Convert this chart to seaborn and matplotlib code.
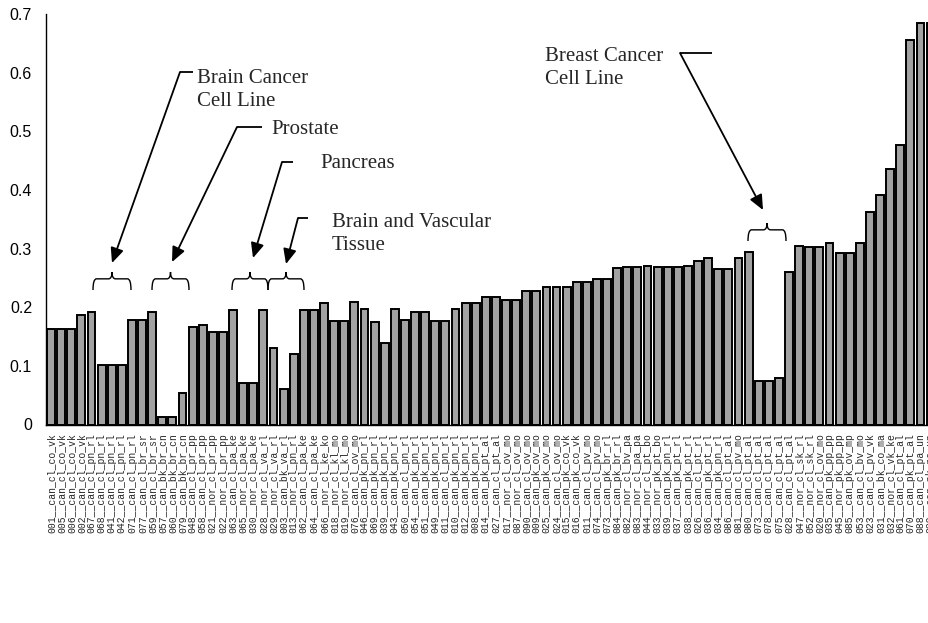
import numpy as np
import pandas as pd
import matplotlib
matplotlib.use("Agg")
import matplotlib.pyplot as plt
from matplotlib.path import Path
from matplotlib.patches import PathPatch
import seaborn as sns

# ---------------- data ----------------
sample_ids = ["001", "005", "006", "002", "067", "068", "041", "042", "071", "077",
              "059", "057", "060", "079", "048", "058", "021", "022", "063", "065",
              "030", "028", "029", "003", "013", "062", "064", "066", "018", "019",
              "076", "046", "069", "039", "043", "050", "054", "051", "049", "011",
              "010", "012", "008", "014", "027", "017", "087", "090", "009", "025",
              "024", "015", "016", "011", "074", "073", "084", "082", "083", "044",
              "033", "039", "037", "038", "026", "036", "034", "086", "081", "080",
              "073", "078", "075", "028", "047", "052", "020", "035", "045", "085",
              "053", "023", "031", "032", "061", "070", "088", "089"]
sample_desc = ["can_cl_co_vk", "can_cl_co_vk", "can_cl_co_vk", "can_cl_co_vk", "can_cl_pn_rl",
               "can_cl_pn_rl", "can_cl_pn_rl", "can_cl_pn_rl", "can_cl_pn_rl", "can_cl_br_sr",
               "can_cl_br_sr", "can_bk_br_cn", "can_bk_br_cn", "can_bk_br_cn", "can_cl_pr_pp",
               "can_cl_pr_pp", "nor_cl_pr_pp", "nor_cl_pr_pp", "can_cl_pa_ke", "nor_cl_pa_ke",
               "nor_cl_pa_ke", "nor_cl_va_rl", "nor_cl_va_rl", "can_bk_va_rl", "nor_cl_pn_rl",
               "can_cl_pa_ke", "can_cl_pa_ke", "nor_cl_ke_ko", "nor_cl_kl_mo", "nor_cl_kl_mo",
               "can_cl_ov_mo", "can_pk_pn_rl", "can_pk_pn_rl", "can_pk_pn_rl", "can_pk_pn_rl",
               "can_cl_pn_rl", "can_pk_pn_rl", "can_pk_pn_rl", "can_pk_pn_rl", "can_cl_pn_rl",
               "can_pk_pn_rl", "can_pk_pn_rl", "can_pk_pn_rl", "can_pk_pt_al", "can_cl_pt_al",
               "nor_cl_ov_mo", "nor_cl_ov_mo", "can_cl_ov_mo", "can_pk_ov_mo", "can_pk_ov_mo",
               "can_cl_ov_mo", "can_pk_co_vk", "can_pk_co_vk", "can_cl_pv_mo", "can_cl_pv_mo",
               "can_pk_br_rl", "can_pk_br_rl", "nor_cl_bv_pa", "nor_cl_pa_pa", "nor_cl_pt_bo",
               "nor_pk_pt_bo", "can_pk_pn_rl", "can_pk_pt_rl", "can_pk_pt_rl", "can_cl_pt_rl",
               "can_pk_pt_rl", "can_pk_pn_rl", "can_cl_pt_al", "can_cl_pv_mo", "can_cl_pt_al",
               "can_cl_pt_al", "can_cl_pt_al", "can_cl_pt_al", "can_cl_pt_al", "nor_cl_sk_rl",
               "nor_cl_sk_rl", "nor_cl_ov_mo", "can_pk_pp_pp", "nor_pk_pp_pp", "can_pk_ov_mp",
               "can_cl_bv_mo", "can_cl_pv_vk", "can_bk_co_ma", "nor_cl_vk_ke", "can_cl_pt_al",
               "can_pk_pt_al", "can_cl_pa_un", "can_pk_pa_un"]
values = [0.162, 0.162, 0.162, 0.186, 0.191, 0.102, 0.102, 0.102, 0.178, 0.178,
          0.191, 0.013, 0.013, 0.053, 0.167, 0.170, 0.157, 0.157, 0.196, 0.071,
          0.071, 0.196, 0.131, 0.060, 0.121, 0.196, 0.196, 0.207, 0.176, 0.176,
          0.209, 0.197, 0.174, 0.139, 0.197, 0.179, 0.192, 0.192, 0.176, 0.176,
          0.197, 0.208, 0.208, 0.218, 0.218, 0.212, 0.212, 0.228, 0.228, 0.235,
          0.235, 0.235, 0.243, 0.243, 0.248, 0.248, 0.267, 0.269, 0.269, 0.271,
          0.269, 0.269, 0.269, 0.271, 0.279, 0.284, 0.266, 0.266, 0.284, 0.295,
          0.074, 0.074, 0.080, 0.260, 0.305, 0.302, 0.302, 0.310, 0.292, 0.292,
          0.310, 0.362, 0.391, 0.435, 0.477, 0.656, 0.684, 0.684]
yticks = [0, 0.1, 0.2, 0.3, 0.4, 0.5, 0.6, 0.7]
ytick_labels = ["0", "0.1", "0.2", "0.3", "0.4", "0.5", "0.6", "0.7"]

labels = [f"{i}__{d}" for i, d in zip(sample_ids, sample_desc)]
# make unique for categorical plotting
seen = {}
ulabels = []
for lab in labels:
    if lab in seen:
        seen[lab] += 1
        ulabels.append(lab + "\u200b" * seen[lab])
    else:
        seen[lab] = 0
        ulabels.append(lab)
df = pd.DataFrame({"sample": ulabels, "value": values})

# ---------------- figure ----------------
W, H = 929, 623
fig = plt.figure(figsize=(W / 100, H / 100), dpi=100)
sns.set_style("white")
plt.rcParams["font.family"] = ["Liberation Sans", "DejaVu Sans"]

pitch = 10.11
n = len(values)
ax_left, ax_bottom_px, ax_top_px = 46, 424.5, 14.0
ax = fig.add_axes([ax_left / W, 1 - ax_bottom_px / H, n * pitch / W,
                   (ax_bottom_px - ax_top_px) / H])

sns.barplot(data=df, x="sample", y="value", order=ulabels, color="#a2a2a2",
            saturation=1, width=0.78, edgecolor="black", linewidth=1.4, ax=ax)

ax.set_xlim(-0.5, n - 0.5)
ax.set_ylim(0, 0.7)
ax.set_yticks(yticks)
ax.set_yticklabels(ytick_labels, fontsize=11.5, family="Liberation Sans")
ax.set_xlabel("")
ax.set_ylabel("")
for s in ["top", "right"]:
    ax.spines[s].set_visible(False)
for s in ["left", "bottom"]:
    ax.spines[s].set_color("black")
    ax.spines[s].set_linewidth(1.0)

ax.tick_params(axis="y", direction="out", length=4, width=1, pad=6, colors="black")
ax.set_xticks(range(n))
ax.set_xticklabels(labels, rotation=90, fontsize=7.0, family="Liberation Mono")
ax.tick_params(axis="x", which="major", length=0, pad=6)
ax.set_xticks(np.arange(-0.5, n, 1), minor=True)
ax.tick_params(axis="x", which="minor", direction="out", length=4, width=1, colors="black")

# ---------------- annotations ----------------
def xd(px):
    return (px - ax_left) / pitch - 0.5

def yd(py):
    return (ax_bottom_px - py) / (ax_bottom_px - ax_top_px) * 0.7

serif = "Liberation Serif"
tsize = 15

def brace(x0p, x1p, ytop_p, ybot_p):
    x0, x1 = xd(x0p), xd(x1p)
    yt, yb = yd(ytop_p), yd(ybot_p)
    ym = yb + 0.62 * (yt - yb)
    xc = (x0 + x1) / 2
    r = 0.35
    verts = [(x0, yb), (x0, ym), (x0 + r, ym),
             (xc - r, ym), (xc, ym), (xc, yt),
             (xc, ym), (xc + r, ym),
             (x1 - r, ym), (x1, ym), (x1, yb)]
    codes = [Path.MOVETO, Path.CURVE3, Path.CURVE3,
             Path.LINETO, Path.CURVE3, Path.CURVE3,
             Path.CURVE3, Path.CURVE3,
             Path.LINETO, Path.CURVE3, Path.CURVE3]
    ax.add_patch(PathPatch(Path(verts, codes), fill=False, lw=1.0,
                           edgecolor="black", clip_on=False))

def pointer(hx0, hx1, hy, tipx, tipy):
    ax.plot([xd(hx0), xd(hx1)], [yd(hy), yd(hy)], color="black", lw=1.3,
            clip_on=False, solid_capstyle="butt")
    ax.annotate("", xy=(xd(tipx), yd(tipy)), xytext=(xd(hx0), yd(hy)),
                arrowprops=dict(arrowstyle="-|>,head_length=0.9,head_width=0.4",
                                color="black", lw=1.3, shrinkA=0, shrinkB=0),
                annotation_clip=False)

# Brain cancer cell line (baseline of last line)
ax.text(xd(197), yd(106), "Brain Cancer\nCell Line", family=serif, fontsize=tsize,
        va="baseline", ha="left", linespacing=1.32)
pointer(180, 193, 72, 112, 263)
brace(93, 131, 272, 290)

# Prostate
ax.text(xd(271), yd(134), "Prostate", family=serif, fontsize=tsize, va="baseline", ha="left")
pointer(237, 262, 127, 172, 262)
brace(152, 189, 272, 290)

# Pancreas
ax.text(xd(320), yd(168), "Pancreas", family=serif, fontsize=tsize, va="baseline", ha="left")
pointer(282, 293, 162, 253, 258)
brace(232, 268, 272, 290)

# Brain and vascular tissue
ax.text(xd(332), yd(250), "Brain and Vascular\nTissue", family=serif, fontsize=tsize,
        va="baseline", ha="left", linespacing=1.32)
pointer(298, 308, 218, 286, 264)
brace(268, 304, 272, 290)

# Breast cancer cell line
ax.text(xd(545), yd(84), "Breast Cancer\nCell Line", family=serif, fontsize=tsize,
        va="baseline", ha="left", linespacing=1.32)
pointer(680, 712, 53, 763, 210)
brace(748, 786, 223, 241)

fig.savefig("out.png", dpi=100, facecolor="white")
